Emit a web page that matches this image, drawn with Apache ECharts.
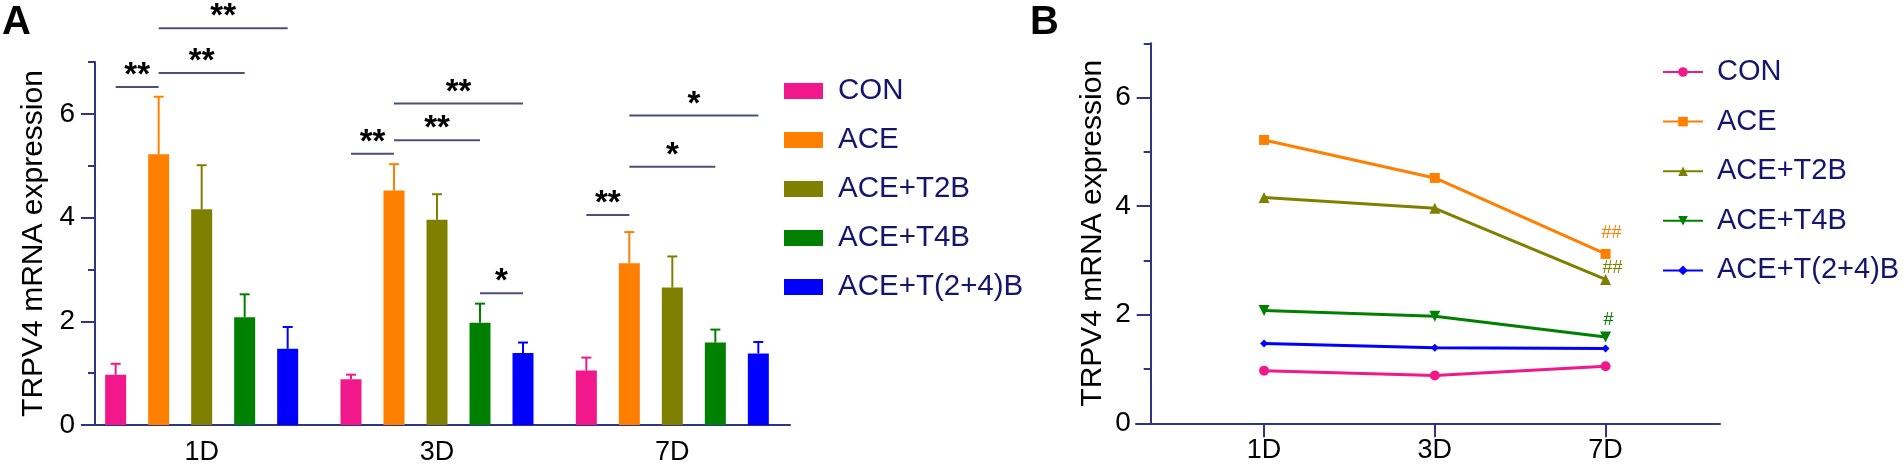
<!DOCTYPE html>
<html><head><meta charset="utf-8">
<script src="https://cdn.jsdelivr.net/npm/echarts@6/dist/echarts.min.js"></script>
<style>html,body{margin:0;padding:0;background:#fff}#c{width:1903px;height:469px}</style>
</head><body><div id="c"></div>
<script>
// ---------------- data ----------------
const categories = ['1D', '3D', '7D'];
const groups = ['CON', 'ACE', 'ACE+T2B', 'ACE+T4B', 'ACE+T(2+4)B'];
const conMean  = [0.97, 0.88, 1.05];
const aceMean  = [5.22, 4.52, 3.12];
const t2bMean  = [4.16, 3.96, 2.65];
const t4bMean  = [2.08, 1.97, 1.59];
const t24bMean = [1.47, 1.39, 1.38];
const conSD  = [0.21, 0.09, 0.25];
const aceSD  = [1.11, 0.51, 0.60];
const t2bSD  = [0.85, 0.49, 0.60];
const t4bSD  = [0.44, 0.37, 0.25];
const t24bSD = [0.42, 0.20, 0.22];
const yLabelTicks = [0, 2, 4, 6];
const yMinorTicks = [1, 3, 5, 7];
// significance brackets: [category, fromGroup, toGroup, height]
const sigBrackets = [
  [0, 0, 1, 6.52], [0, 1, 3, 6.79], [0, 1, 4, 7.65],
  [1, 0, 1, 5.23], [1, 1, 3, 5.49], [1, 1, 4, 6.20], [1, 3, 4, 2.54],
  [2, 0, 1, 4.05], [2, 1, 3, 4.98], [2, 1, 4, 5.97]
];
const sigStars = ['**', '**', '**', '**', '**', '**', '*', '**', '*', '*'];
// panel B marks at 7D, per group
const hashMarks7D = ['', '##', '##', '#', ''];

// ---------------- styles ----------------
const means = [conMean, aceMean, t2bMean, t4bMean, t24bMean];
const sds = [conSD, aceSD, t2bSD, t4bSD, t24bSD];
const colors = ['#f0188a', '#ff8000', '#808000', '#008000', '#0000ff'];
const AX = '#2f3580';
const FONT = '"Liberation Sans", Arial, sans-serif';
const BAR_W = 21, BAR_GAP = 22 / 21, STEP = BAR_W * (1 + BAR_GAP);
const symbols = ['circle', 'rect', 'triangle', 'triangle', 'diamond'];
const symbolRot = [0, 0, 0, 180, 0];
const symbolSizes = [10, 10, 11, 11, 8];
const hashOffsets = [[0, 0], [6, -21], [7, -11], [3, -17], [0, 0]];

const chart = echarts.init(document.getElementById('c'), null, {renderer: 'canvas'});

const barSeries = groups.map((g, gi) => ({
  name: g, type: 'bar', xAxisIndex: 0, yAxisIndex: 0,
  data: means[gi], barWidth: BAR_W, barGap: (BAR_GAP * 100).toFixed(2) + '%',
  itemStyle: {color: colors[gi]}, z: 2
}));

const errData = [];
groups.forEach((g, gi) => categories.forEach((c, ci) => {
  errData.push([ci, gi, means[gi][ci], means[gi][ci] + sds[gi][ci]]);
}));

const errSeries = {
  name: 'errA', type: 'custom', xAxisIndex: 0, yAxisIndex: 0, clip: false, z: 3,
  encode: {x: 0, y: [2, 3]},
  data: errData,
  renderItem: (params, api) => {
    const gi = api.value(1);
    const p0 = api.coord([api.value(0), api.value(2)]);
    const p1 = api.coord([api.value(0), api.value(3)]);
    const x = p0[0] + (gi - 2) * STEP;
    const col = colors[gi];
    return {type: 'group', children: [
      {type: 'line', shape: {x1: x, y1: p0[1], x2: x, y2: p1[1]}, style: {stroke: col, lineWidth: 2}},
      {type: 'line', shape: {x1: x - 5, y1: p1[1], x2: x + 5, y2: p1[1]}, style: {stroke: col, lineWidth: 2}}
    ]};
  }
};

const sigSeries = {
  name: 'sigA', type: 'custom', xAxisIndex: 0, yAxisIndex: 0, clip: false, z: 4,
  encode: {x: 0, y: 3},
  data: sigBrackets,
  renderItem: (params, api) => {
    const p = api.coord([api.value(0), api.value(3)]);
    const x1 = p[0] + (api.value(1) - 2) * STEP;
    const x2 = p[0] + (api.value(2) - 2) * STEP;
    return {type: 'group', children: [
      {type: 'line', shape: {x1: x1, y1: p[1], x2: x2, y2: p[1]}, style: {stroke: '#4b4f7c', lineWidth: 2}},
      {type: 'text', x: (x1 + x2) / 2, y: p[1] - 11,
       style: {text: sigStars[params.dataIndex], fill: '#000', font: 'bold 33px ' + FONT, align: 'center', verticalAlign: 'middle'}}
    ]};
  }
};

const lineSeries = groups.map((g, gi) => ({
  name: 'B:' + g, type: 'line', xAxisIndex: 1, yAxisIndex: 2,
  symbol: symbols[gi], symbolSize: symbolSizes[gi], symbolRotate: symbolRot[gi],
  lineStyle: {width: 3, color: colors[gi]}, itemStyle: {color: colors[gi]},
  data: means[gi].map((v, ci) => ({
    value: [ci + 1, v],
    label: {show: ci === 2 && !!hashMarks7D[gi], formatter: hashMarks7D[gi], position: 'inside',
            offset: hashOffsets[gi], color: colors[gi], fontSize: 18, fontFamily: FONT}
  }))
}));

const axisLabelStyle = {color: '#000', fontSize: 27, fontFamily: FONT};

const option = {
  animation: false,
  backgroundColor: '#fff',
  textStyle: {fontFamily: FONT},
  grid: [
    {left: 84, top: 62, width: 706, height: 363},
    {left: 1136, top: 43.3, width: 584, height: 380}
  ],
  xAxis: [
    {gridIndex: 0, type: 'category', data: categories,
     axisLine: {lineStyle: {color: AX, width: 2}},
     axisTick: {alignWithLabel: true, length: 14, lineStyle: {color: AX, width: 2}},
     axisLabel: Object.assign({margin: 14}, axisLabelStyle), splitLine: {show: false}},
    {gridIndex: 1, type: 'value', min: 0.25, max: 3.67,
     axisLine: {onZero: false, lineStyle: {color: AX, width: 2}},
     axisTick: {customValues: [1, 2, 3], length: 14, lineStyle: {color: AX, width: 2}},
     axisLabel: Object.assign({margin: 14, customValues: [1, 2, 3], formatter: v => categories[Math.round(v) - 1]}, axisLabelStyle),
     splitLine: {show: false}}
  ],
  yAxis: [
    {gridIndex: 0, type: 'value', position: 'left', min: 0, max: 7, offset: -11,
     axisLine: {show: true, lineStyle: {color: AX, width: 2}},
     axisTick: {show: true, customValues: yLabelTicks, length: 14, lineStyle: {color: AX, width: 2}},
     axisLabel: Object.assign({customValues: yLabelTicks, margin: 20}, axisLabelStyle, {fontSize: 28}),
     splitLine: {show: false},
     name: 'TRPV4 mRNA expression', nameLocation: 'middle', nameGap: 46,
     nameTextStyle: {fontSize: 30, color: '#000', fontFamily: FONT}},
    {gridIndex: 0, type: 'value', position: 'left', min: 0, max: 7, offset: -11,
     axisLine: {show: false}, axisLabel: {show: false}, splitLine: {show: false},
     axisTick: {show: true, customValues: yMinorTicks, length: 7, lineStyle: {color: AX, width: 2}}},
    {gridIndex: 1, type: 'value', position: 'left', min: 0, max: 7, offset: -14.7,
     axisLine: {show: true, onZero: false, lineStyle: {color: AX, width: 2}},
     axisTick: {show: true, customValues: yLabelTicks, length: 14, lineStyle: {color: AX, width: 2}},
     axisLabel: Object.assign({customValues: yLabelTicks, margin: 20}, axisLabelStyle, {fontSize: 28}),
     splitLine: {show: false},
     name: 'TRPV4 mRNA expression', nameLocation: 'middle', nameGap: 43,
     nameTextStyle: {fontSize: 30, color: '#000', fontFamily: FONT}},
    {gridIndex: 1, type: 'value', position: 'left', min: 0, max: 7, offset: -14.7,
     axisLine: {show: false}, axisLabel: {show: false}, splitLine: {show: false},
     axisTick: {show: true, customValues: yMinorTicks, length: 7, lineStyle: {color: AX, width: 2}}}
  ],
  legend: [
    {orient: 'vertical', left: 779, top: 71, data: groups, icon: 'rect',
     itemWidth: 39, itemHeight: 16, itemGap: 19, selectedMode: false,
     textStyle: {fontSize: 29.5, color: '#15156e', lineHeight: 30, padding: [0, 0, 0, 10], fontFamily: FONT}},
    {orient: 'vertical', left: 1657, top: 52, data: groups.map(g => 'B:' + g),
     formatter: n => n.replace(/^B:/, ''),
     itemWidth: 40, itemHeight: 12, itemGap: 19.6, selectedMode: false,
     textStyle: {fontSize: 29, color: '#15156e', lineHeight: 30, padding: [0, 0, 0, 9], fontFamily: FONT}}
  ],
  graphic: [
    {type: 'text', left: 2, top: 3, style: {text: 'A', font: 'bold 40px ' + FONT, fill: '#000'}},
    {type: 'text', left: 1030, top: 3, style: {text: 'B', font: 'bold 40px ' + FONT, fill: '#000'}}
  ],
  series: [...barSeries, errSeries, sigSeries, ...lineSeries]
};
chart.setOption(option);
</script>
</body></html>
